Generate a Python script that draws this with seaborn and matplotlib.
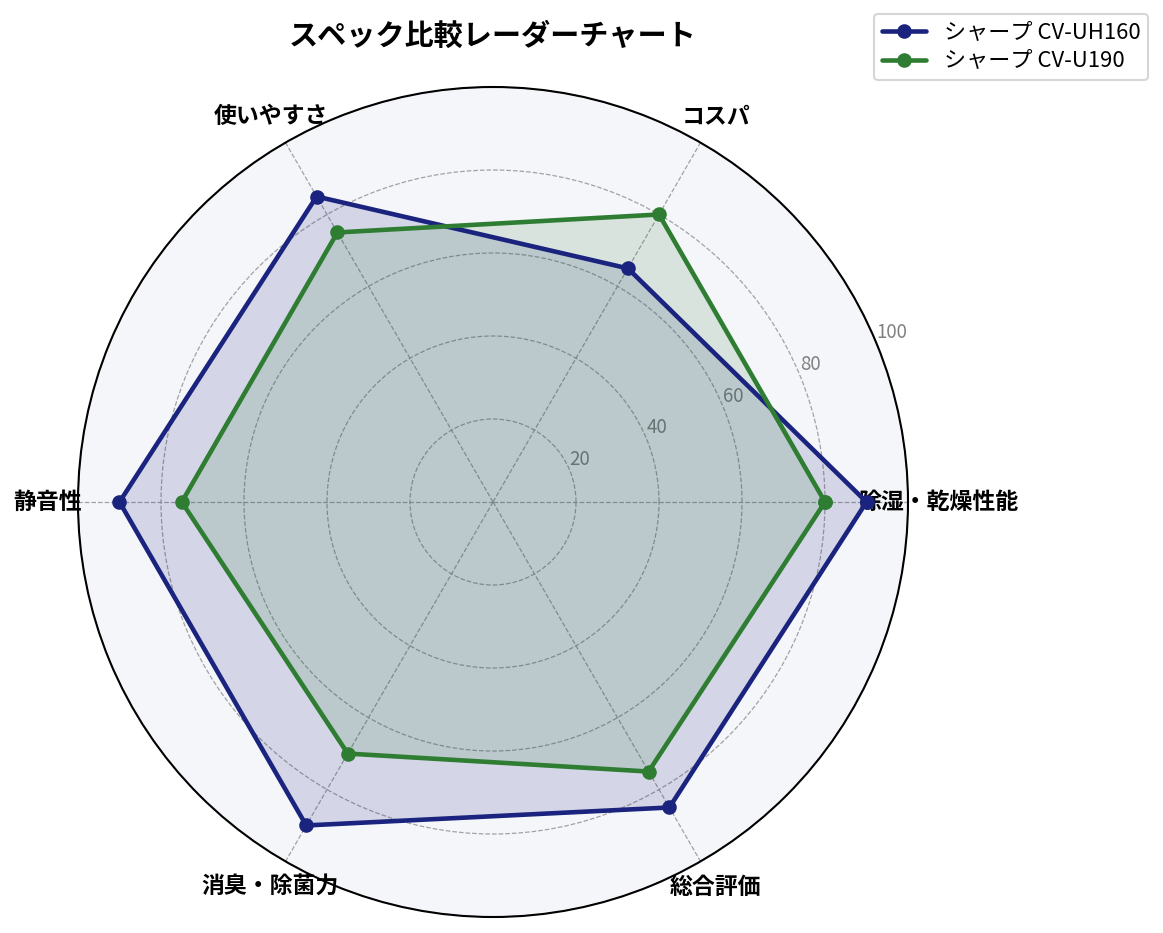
import numpy as np
import matplotlib
matplotlib.use("Agg")
import matplotlib.pyplot as plt
import seaborn as sns

sns.set_style("white")
plt.rcParams['font.family'] = ['Noto Sans CJK JP', 'DejaVu Sans']
plt.rcParams['text.color'] = 'black'
plt.rcParams['xtick.color'] = 'black'

categories = ["除湿・乾燥性能", "コスパ", "使いやすさ", "静音性", "消臭・除菌力", "総合評価"]
series_names = ["シャープ CV-UH160", "シャープ CV-U190"]
uh160 = [90, 65, 85, 90, 90, 85]
u190 = [80, 80, 75, 75, 70, 75]
colors = ["#1a237e", "#2e7d32"]
r_ticks = [20, 40, 60, 80, 100]

DPI = 150
fig = plt.figure(figsize=(1163 / DPI, 933 / DPI), dpi=DPI)
W, H = 1163, 933
cx, cy, R = 493, 502, 415
ax = fig.add_axes([(cx - R) / W, (H - cy - R) / H, 2 * R / W, 2 * R / H], projection="polar")
ax.set_facecolor("#f5f6fa")

n = len(categories)
angles = np.linspace(0, 2 * np.pi, n, endpoint=False)
ang_closed = np.concatenate([angles, angles[:1]])

for name, vals, col in zip(series_names, [uh160, u190], colors):
    v = np.concatenate([vals, vals[:1]])
    sns.lineplot(x=ang_closed, y=v, ax=ax, sort=False, estimator=None, color=col,
                 linewidth=2.2, marker="o", markersize=7, markeredgewidth=0,
                 label=name, legend=False)
    ax.fill(ang_closed, v, color=col, alpha=0.15)

ax.set_ylim(0, 100)
ax.set_yticks(r_ticks)
ax.set_yticklabels([str(t) for t in r_ticks], fontsize=9, color="#808080")
ax.set_rlabel_position(22.5)
ax.set_xticks(angles)
ax.set_xticklabels(categories, fontsize=11, fontweight="bold", color="black")
ax.tick_params(axis="x", pad=4)
ax.grid(True, linestyle="--", color="#999999", linewidth=0.6, alpha=0.9)
ax.spines["polar"].set_color("black")
ax.spines["polar"].set_linewidth(1.0)

fig.text(cx / W, 1 - 36 / H, "スペック比較レーダーチャート", ha="center", va="center",
         fontsize=14, fontweight="bold", color="black")

handles, labels = ax.get_legend_handles_labels()
leg = fig.legend(handles, labels, loc="upper right", bbox_to_anchor=(1 - 15 / W, 1 - 14 / H),
                 fontsize=10.6, frameon=True, borderaxespad=0.0, labelspacing=0.3,
                 borderpad=0.35)
for t in leg.get_texts():
    t.set_color("black")

fig.savefig("out.png", dpi=DPI)
